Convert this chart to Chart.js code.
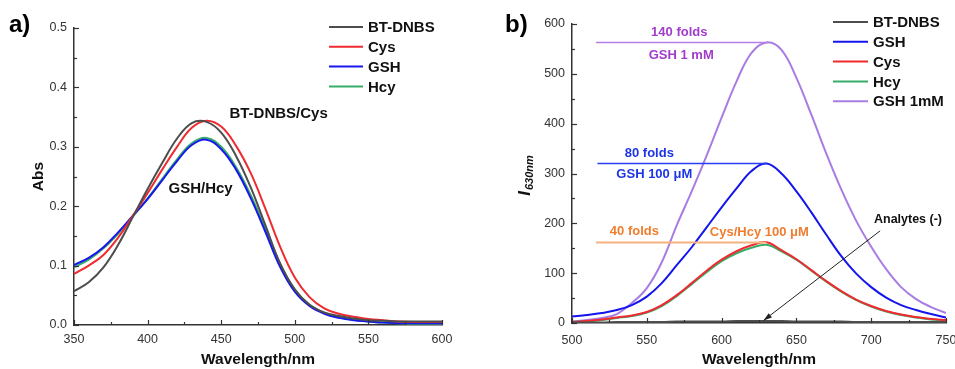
<!DOCTYPE html>
<html>
<head>
<meta charset="utf-8">
<script src="https://cdn.jsdelivr.net/npm/chart.js@4.4.0/dist/chart.umd.min.js"></script>
<style>
    html, body { margin: 0; padding: 0; background: #fff; }
    #wrap { position: relative; width: 955px; height: 369px; }
    #absChart { position: absolute; left: 0; top: 0; }
    #flChart { position: absolute; left: 480px; top: 0; }
</style>
</head>
<body>
<div id="wrap">
    <canvas id="absChart" width="480" height="369"></canvas>
    <canvas id="flChart" width="475" height="369"></canvas>
</div>
<script>
// ---- Panel a) absorbance ----
const absWavelengths = [350, 360, 370, 380, 390, 400, 410, 420, 430, 440, 450, 460, 470,
    480, 490, 500, 510, 520, 530, 540, 550, 560, 570, 580, 590, 600];
const absBTDNBS = [0.057, 0.072, 0.097, 0.135, 0.182, 0.229, 0.273, 0.314, 0.340, 0.342, 0.324, 0.285, 0.232,
    0.168, 0.104, 0.060, 0.034, 0.021, 0.015, 0.011, 0.008, 0.007, 0.006, 0.006, 0.006, 0.006];
const absCys = [0.086, 0.100, 0.118, 0.147, 0.184, 0.222, 0.262, 0.300, 0.332, 0.344, 0.334, 0.302, 0.256,
    0.196, 0.132, 0.080, 0.047, 0.028, 0.019, 0.014, 0.010, 0.008, 0.006, 0.005, 0.005, 0.005];
const absGSH = [0.101, 0.113, 0.131, 0.156, 0.184, 0.212, 0.244, 0.276, 0.303, 0.312, 0.296, 0.262, 0.214,
    0.157, 0.098, 0.056, 0.032, 0.019, 0.012, 0.008, 0.006, 0.004, 0.003, 0.003, 0.003, 0.003];
const absHcy = [0.097, 0.110, 0.129, 0.154, 0.183, 0.213, 0.246, 0.279, 0.306, 0.315, 0.300, 0.266, 0.219,
    0.162, 0.102, 0.059, 0.034, 0.020, 0.013, 0.009, 0.006, 0.004, 0.003, 0.002, 0.002, 0.002];
const absNames = ["BT-DNBS", "Cys", "GSH", "Hcy"];

// ---- Panel b) fluorescence ----
const flWavelengths = [500, 510, 520, 530, 540, 550, 560, 570, 580, 590, 600, 610, 620,
    630, 640, 650, 660, 670, 680, 690, 700, 710, 720, 730, 740, 750];
const flBTDNBS = [1, 1, 1, 2, 2, 2, 2, 3, 3, 3, 3, 4, 4, 4, 4, 3, 3, 3, 3, 2, 2, 2, 2, 2, 2, 2];
const flGSH = [13, 16, 20, 26, 36, 53, 80, 116, 152, 192, 232, 270, 305,
    320, 300, 264, 222, 177, 134, 99, 72, 51, 36, 26, 18, 11];
const flCys = [2, 4, 7, 11, 15, 22, 36, 56, 80, 105, 127, 144, 156,
    162, 146, 128, 106, 84, 64, 47, 34, 24, 17, 12, 8, 6];
const flHcy = [2, 3, 6, 10, 14, 21, 34, 54, 78, 102, 124, 140, 151,
    157, 144, 127, 105, 83, 63, 46, 33, 23, 16, 11, 7, 5];
const flGSH1mM = [3, 6, 10, 18, 40, 70, 122, 196, 264, 336, 412, 485, 542,
    563, 548, 492, 418, 340, 268, 205, 153, 108, 72, 48, 32, 20];
const flNames = ["BT-DNBS", "GSH", "Cys", "Hcy", "GSH 1mM"];

// fold marks (level, start / end wavelength) and their labels
const foldLevels = [563, 321, 162];
const foldStart = [516, 517, 516];
const foldEnd = [631, 630, 630];
const foldTexts = ["140 folds", "80 folds", "40 folds"];
const concTexts = ["GSH 1 mM", "GSH 100 μM", "Cys/Hcy 100 μM"];

const FONT = "'Liberation Sans', Arial, sans-serif";

function toPoints(xs, ys) {
    return xs.map((x, i) => ({ x: x, y: ys[i] }));
}

function lineSet(label, xs, ys, color, width) {
    return {
        label: label,
        data: toPoints(xs, ys),
        borderColor: color,
        backgroundColor: color,
        borderWidth: width || 2,
        pointRadius: 0,
        tension: 0.4,
        fill: false
    };
}

//Ritar små inåtvända tickmarkeringar på x- och y-axeln.
const innerTicks = {
    id: "innerTicks",
    afterDraw(chart, args, o) {
        const { ctx, chartArea: a, scales: { x, y } } = chart;
        ctx.save();
        ctx.strokeStyle = "#333";
        ctx.lineWidth = 1.2;
        let i = 0;
        for (let v = x.min; v <= x.max + 1e-9; v += o.xMinor, i++) {
            const px = Math.round(x.getPixelForValue(v)) + 0.5;
            ctx.beginPath();
            ctx.moveTo(px, a.bottom);
            ctx.lineTo(px, a.bottom - (i % 2 === 0 ? 5 : 3));
            ctx.stroke();
        }
        i = 0;
        for (let v = y.min; v <= y.max + 1e-9; v += o.yMinor, i++) {
            const py = Math.round(y.getPixelForValue(v)) + 0.5;
            ctx.beginPath();
            ctx.moveTo(a.left, py);
            ctx.lineTo(a.left + (i % 2 === 0 ? 5 : 3), py);
            ctx.stroke();
        }
        ctx.restore();
    }
};

//Egen legend uppe till höger.
const sideLegend = {
    id: "sideLegend",
    afterDraw(chart, args, o) {
        const ctx = chart.ctx;
        ctx.save();
        ctx.font = "bold 15px " + FONT;
        ctx.textBaseline = "middle";
        chart.data.datasets.forEach((ds, i) => {
            const yy = o.y0 + i * o.dy;
            ctx.strokeStyle = ds.borderColor;
            ctx.lineWidth = 2;
            ctx.beginPath();
            ctx.moveTo(o.x1, yy);
            ctx.lineTo(o.x2, yy);
            ctx.stroke();
            ctx.fillStyle = "#111";
            ctx.fillText(ds.label, o.tx, yy + 1);
        });
        ctx.restore();
    }
};

//Texter, linjer och pil i datakoordinater.
const notes = {
    id: "notes",
    afterDraw(chart, args, o) {
        const { ctx, scales: { x, y } } = chart;
        ctx.save();
        (o.lines || []).forEach(l => {
            ctx.strokeStyle = l.color;
            ctx.lineWidth = l.width;
            const py = Math.round(y.getPixelForValue(l.level)) + 0.5;
            ctx.beginPath();
            ctx.moveTo(x.getPixelForValue(l.from), py);
            ctx.lineTo(x.getPixelForValue(l.to), py);
            ctx.stroke();
        });
        if (o.arrow) {
            const ax = x.getPixelForValue(o.arrow.from[0]), ay = y.getPixelForValue(o.arrow.from[1]);
            const bx = x.getPixelForValue(o.arrow.to[0]), by = y.getPixelForValue(o.arrow.to[1]);
            const ang = Math.atan2(by - ay, bx - ax);
            ctx.strokeStyle = "#222";
            ctx.fillStyle = "#222";
            ctx.lineWidth = 1;
            ctx.beginPath();
            ctx.moveTo(ax, ay);
            ctx.lineTo(bx, by);
            ctx.stroke();
            ctx.beginPath();
            ctx.moveTo(bx, by);
            ctx.lineTo(bx - 9 * Math.cos(ang - 0.3), by - 9 * Math.sin(ang - 0.3));
            ctx.lineTo(bx - 9 * Math.cos(ang + 0.3), by - 9 * Math.sin(ang + 0.3));
            ctx.closePath();
            ctx.fill();
        }
        ctx.textAlign = "center";
        ctx.textBaseline = "middle";
        (o.texts || []).forEach(t => {
            ctx.font = "bold " + t.size + "px " + FONT;
            ctx.fillStyle = t.color;
            ctx.fillText(t.text, x.getPixelForValue(t.x), y.getPixelForValue(t.y) + t.dy);
        });
        // panel letter
        ctx.textAlign = "left";
        ctx.textBaseline = "alphabetic";
        ctx.font = "bold 24px " + FONT;
        ctx.fillStyle = "#000";
        ctx.fillText(o.panel.text, o.panel.x, o.panel.y);
        // rotated title with subscript (panel b)
        if (o.yTitle) {
            ctx.translate(o.yTitle.x, o.yTitle.y);
            ctx.rotate(-Math.PI / 2);
            ctx.fillStyle = "#111";
            ctx.font = "italic bold 17px " + FONT;
            const w1 = ctx.measureText("I").width;
            ctx.font = "italic bold 11px " + FONT;
            const w2 = ctx.measureText("630nm").width;
            const start = -(w1 + w2) / 2;
            ctx.font = "italic bold 17px " + FONT;
            ctx.fillText("I", start, 0);
            ctx.font = "italic bold 11px " + FONT;
            ctx.fillText("630nm", start + w1 + 1, 3);
        }
        ctx.restore();
    }
};

function axisX(min, max, pad, h, title) {
    return {
        type: "linear",
        min: min, max: max,
        grid: { display: false, drawTicks: false },
        border: { display: true, color: "#333", width: 1.5 },
        ticks: { stepSize: 50, padding: pad, color: "#333", maxRotation: 0,
            font: { family: FONT, size: 12.5 } },
        title: { display: true, text: title, color: "#111", padding: { top: 0, bottom: 0 },
            font: { family: FONT, size: 15.5, weight: "bold" } },
        afterFit: s => {
            s.height = h;
            s.paddingLeft = 0;
            s.paddingRight = 0;
        }
    };
}

function createAbsChart() {
    const ctx = document.getElementById("absChart");
    new Chart(ctx, {
        type: "line",
        data: {
            datasets: [
                lineSet(absNames[0], absWavelengths, absBTDNBS, "#4d4d4d"),
                lineSet(absNames[1], absWavelengths, absCys, "#ef2b2f"),
                lineSet(absNames[2], absWavelengths, absGSH, "#1818ee"),
                lineSet(absNames[3], absWavelengths, absHcy, "#36ad68")
            ]
        },
        options: {
            responsive: false,
            animation: false,
            layout: { autoPadding: false, padding: { left: 0, right: 38, top: 28, bottom: 0 } },
            plugins: {
                legend: { display: false },
                tooltip: { enabled: false },
                innerTicks: { xMinor: 25, yMinor: 0.05 },
                sideLegend: { x1: 329, x2: 363, tx: 368, y0: 27, dy: 19.8 },
                notes: {
                    texts: [
                        { text: "BT-DNBS/Cys", x: 489, y: 0.355, dy: 0, size: 15, color: "#111" },
                        { text: "GSH/Hcy", x: 436, y: 0.229, dy: 0, size: 15, color: "#111" }
                    ],
                    panel: { text: "a)", x: 9, y: 32 }
                }
            },
            scales: {
                x: axisX(350, 600, 7, 44, "Wavelength/nm"),
                y: {
                    type: "linear",
                    min: 0, max: 0.5,
                    grid: { display: false, drawTicks: false },
                    border: { display: true, color: "#333", width: 1.5 },
                    ticks: { stepSize: 0.1, padding: 7, color: "#333",
                        font: { family: FONT, size: 12.5 },
                        callback: v => v.toFixed(1) },
                    title: { display: true, text: "Abs", color: "#111", padding: { top: 29, bottom: 0 },
                        font: { family: FONT, size: 15.5, weight: "bold" } },
                    afterFit: s => { s.width = 74; }
                }
            }
        },
        plugins: [innerTicks, sideLegend, notes]
    });
}

function createFlChart() {
    const ctx = document.getElementById("flChart");
    new Chart(ctx, {
        type: "line",
        data: {
            datasets: [
                lineSet(flNames[0], flWavelengths, flBTDNBS, "#4d4d4d"),
                lineSet(flNames[1], flWavelengths, flGSH, "#1414ee"),
                lineSet(flNames[2], flWavelengths, flCys, "#ef2b2f"),
                lineSet(flNames[3], flWavelengths, flHcy, "#36ad68"),
                lineSet(flNames[4], flWavelengths, flGSH1mM, "#a87de2")
            ]
        },
        options: {
            responsive: false,
            animation: false,
            layout: { autoPadding: false, padding: { left: 0, right: 9, top: 24, bottom: 0 } },
            plugins: {
                legend: { display: false },
                tooltip: { enabled: false },
                innerTicks: { xMinor: 25, yMinor: 50 },
                sideLegend: { x1: 353, x2: 388, tx: 393, y0: 22, dy: 19.8 },
                notes: {
                    lines: [
                        { level: foldLevels[0], from: foldStart[0], to: foldEnd[0], color: "#b67fe6", width: 1.3 },
                        { level: foldLevels[1], from: foldStart[1], to: foldEnd[1], color: "#2b3cf5", width: 1.3 },
                        { level: foldLevels[2], from: foldStart[2], to: foldEnd[2], color: "#f6b27f", width: 2 }
                    ],
                    arrow: { from: [706, 185], to: [628, 5] },
                    texts: [
                        { text: foldTexts[0], x: 571.7, y: foldLevels[0], dy: -10, size: 13, color: "#a23ccb" },
                        { text: concTexts[0], x: 573, y: foldLevels[0], dy: 13, size: 13, color: "#a23ccb" },
                        { text: foldTexts[1], x: 551.7, y: foldLevels[1], dy: -10, size: 13, color: "#1d35e6" },
                        { text: concTexts[1], x: 555, y: foldLevels[1], dy: 11, size: 13, color: "#1d35e6" },
                        { text: foldTexts[2], x: 541.7, y: foldLevels[2], dy: -11, size: 13, color: "#f07d2e" },
                        { text: concTexts[2], x: 625.2, y: foldLevels[2], dy: -10, size: 13, color: "#f07d2e" },
                        { text: "Analytes (-)", x: 724.6, y: 207, dy: 0, size: 12.5, color: "#111" }
                    ],
                    panel: { text: "b)", x: 25, y: 32 },
                    yTitle: { x: 50, y: 176 }
                }
            },
            scales: {
                x: axisX(500, 750, 10, 46, "Wavelength/nm"),
                y: {
                    type: "linear",
                    min: 0, max: 600,
                    grid: { display: false, drawTicks: false },
                    border: { display: true, color: "#333", width: 1.5 },
                    ticks: { stepSize: 100, padding: 7, color: "#333",
                        font: { family: FONT, size: 12.5 } },
                    afterFit: s => { s.width = 92; }
                }
            }
        },
        plugins: [innerTicks, sideLegend, notes]
    });
}

createAbsChart();
createFlChart();
</script>
</body>
</html>
